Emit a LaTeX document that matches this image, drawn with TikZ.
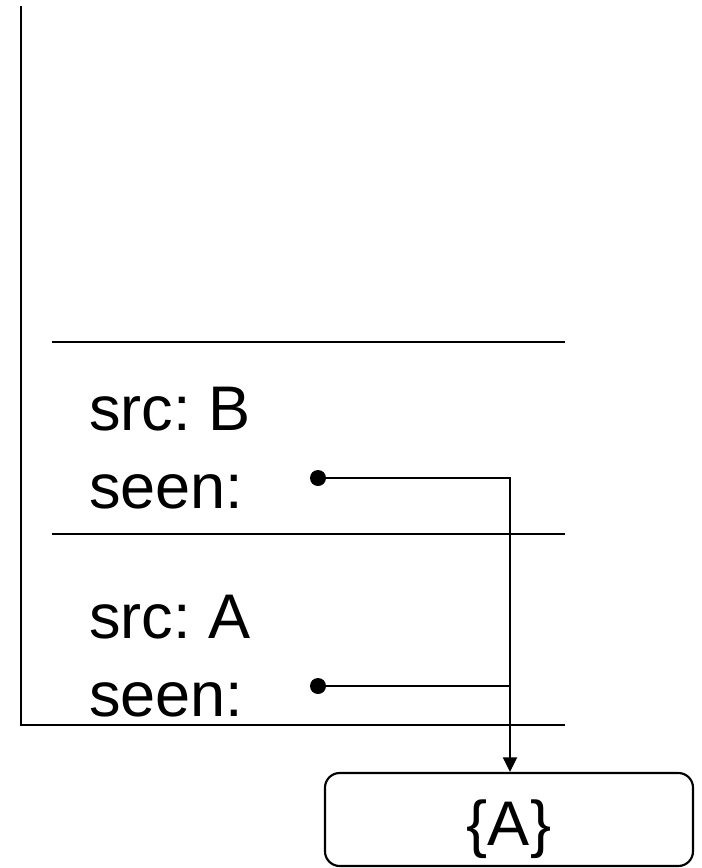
\documentclass[tikz,border=0pt]{standalone}
\usepackage{fontspec}
\setmainfont{Liberation Sans}
\usetikzlibrary{arrows.meta}
\frenchspacing
\begin{document}
\begin{tikzpicture}[x=0.75pt,y=-0.75pt,
  frame/.style={line width=2pt},
  field/.style={anchor=base west, inner sep=0pt, font=\fontsize{47.3}{47.3}\selectfont},
  ptr/.style={circle, fill=black, inner sep=0pt, minimum size=12pt},
  link/.style={line width=1.6pt},
  setbox/.style={draw, line width=1.6pt, rounded corners=11pt,
    minimum width=276pt, minimum height=69.75pt,
    text height=44pt, text depth=5.75pt,
    font=\fontsize{47.3}{47.3}\selectfont}]
\useasboundingbox (0,0) rectangle (701,868);

% stack outline and frame separators
\draw[frame] (21,6) -- (21,725) -- (565,725);
\draw[frame] (52,342) -- (565,342);
\draw[frame] (52,534) -- (565,534);

% frame B
\node[field] (srcB)  at (89,430) {src: B};
\node[field] (seenB) at (89,508) {seen:};
% frame A
\node[field] (srcA)  at (89,638) {src: A};
\node[field] (seenA) at (89,716) {seen:};

% pointer origins
\node[ptr] (ptrB) at (318,478) {};
\node[ptr] (ptrA) at (318,686) {};

% the shared set
\node[setbox] (setA) at (509,819.5) {\{A\}};

% pointers into the set
\coordinate (bend) at (510,478);
\draw[link, -{Triangle[length=11pt,width=10.5pt]}] (ptrB.center) -- (bend) -- (bend |- setA.north);
\draw[link] (ptrA.center) -- (bend |- ptrA);
\end{tikzpicture}
\end{document}
